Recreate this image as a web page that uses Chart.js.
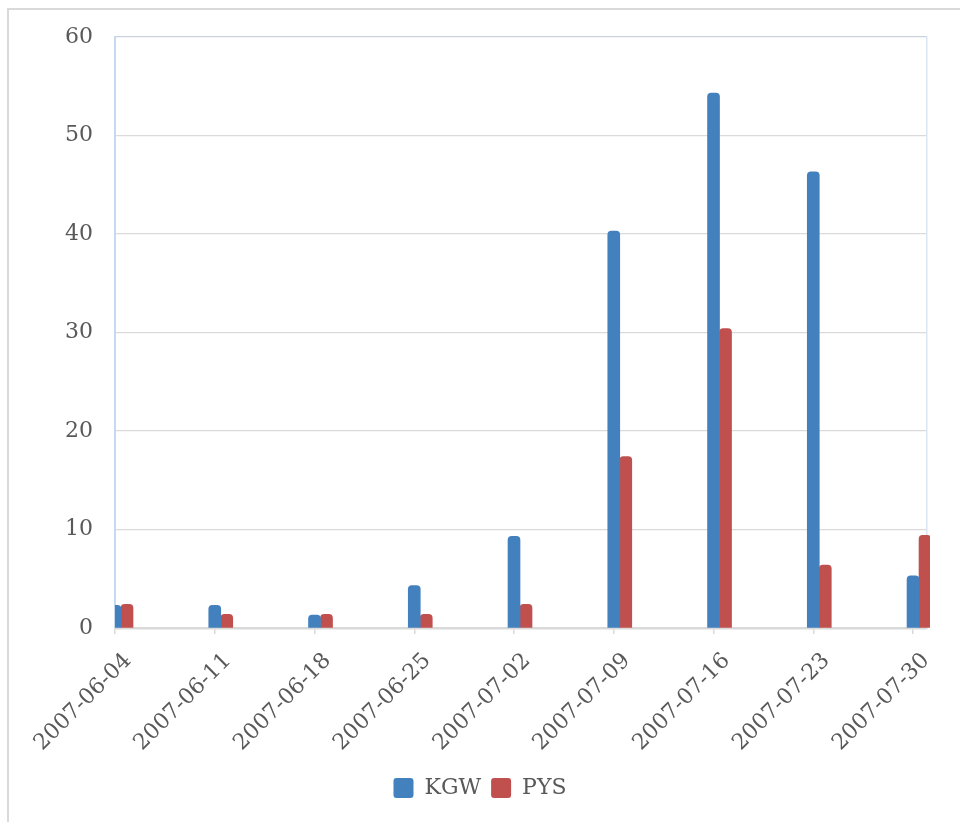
<!DOCTYPE html>
<html>
<head>
<meta charset="utf-8">
<script src="https://cdn.jsdelivr.net/npm/chart.js@4.4.1/dist/chart.umd.min.js"></script>
<style>
  html, body { margin: 0; padding: 0; background: #fff; overflow: hidden; width: 960px; height: 822px; }
  #marco { position: absolute; left: 7px; top: 8px; width: 1200px; height: 1200px; border: 2px solid #d9d9d9; }
  #grafico { position: absolute; left: 0; top: 0; }
</style>
</head>
<body>
<div id="marco"></div>
<canvas id="grafico" width="960" height="822"></canvas>
<script>
// Datos del grafico
var fechas = ['2007-06-04', '2007-06-11', '2007-06-18', '2007-06-25', '2007-07-02',
              '2007-07-09', '2007-07-16', '2007-07-23', '2007-07-30'];
var kgw = [2.3, 2.3, 1.3, 4.3, 9.3, 40.3, 54.3, 46.3, 5.3];
var pys = [2.4, 1.4, 1.4, 1.4, 2.4, 17.4, 30.4, 6.4, 9.4];
var marcasY = [0, 10, 20, 30, 40, 50, 60];

// el eje x es lineal sobre el indice de la fecha; deja un poco de aire a la derecha
var xMax = fechas.length - 1 + 0.14;

function puntos(serie) {
  return serie.map(function (v, i) { return { x: i, y: v }; });
}

var fuente = { family: 'DejaVu Serif', size: 22 };
var gris = '#595959';
var recorte = { left: 0, top: false, right: 3, bottom: 0 };

var ctx = document.getElementById('grafico').getContext('2d');

var datos = {
  datasets: [
    {
      // serie vacia, solo empuja las barras hacia la derecha de la marca
      label: '',
      data: fechas.map(function (f, i) { return { x: i, y: null }; }),
      backgroundColor: 'rgba(0,0,0,0)',
      barThickness: 12,
      clip: recorte
    },
    {
      label: 'KGW',
      data: puntos(kgw),
      backgroundColor: '#4381be',
      borderRadius: { topLeft: 4, topRight: 4 },
      borderSkipped: 'start',
      barThickness: 12,
      clip: recorte
    },
    {
      label: 'PYS',
      data: puntos(pys),
      backgroundColor: '#c0504d',
      borderRadius: { topLeft: 4, topRight: 4 },
      borderSkipped: 'start',
      barThickness: 12,
      clip: recorte
    }
  ]
};

var opciones = {
  responsive: false,
  animation: false,
  layout: { padding: { top: 37, bottom: 13, left: 0, right: 0 } },
  plugins: {
    tooltip: { enabled: false },
    legend: {
      position: 'bottom',
      labels: {
        font: fuente,
        color: gris,
        boxWidth: 20,
        boxHeight: 20,
        useBorderRadius: true,
        borderRadius: 3,
        padding: 10,
        filter: function (item) { return item.text !== ''; }
      }
    }
  },
  scales: {
    x: {
      type: 'linear',
      min: 0,
      max: xMax,
      offset: false,
      grid: {
        offset: false,
        drawOnChartArea: false,
        drawTicks: true,
        tickLength: 6,
        color: '#d9d9d9',
        lineWidth: 1.5
      },
      border: { color: '#d9d9d9', width: 2.5 },
      afterBuildTicks: function (escala) {
        escala.ticks = fechas.map(function (f, i) { return { value: i }; });
      },
      ticks: {
        font: fuente,
        color: gris,
        autoSkip: false,
        minRotation: 45,
        maxRotation: 45,
        padding: 14,
        labelOffset: 13,
        callback: function (v) { return fechas[v]; }
      },
      afterFit: function (escala) { escala.height = 139; }
    },
    y: {
      min: 0,
      max: 60,
      ticks: {
        stepSize: 10,
        font: fuente,
        color: gris,
        padding: 22
      },
      afterBuildTicks: function (escala) {
        escala.ticks = marcasY.map(function (v) { return { value: v }; });
      },
      grid: {
        drawTicks: false,
        color: function (c) { return c.tick && c.tick.value === 60 ? '#c9d1dc' : '#dadada'; },
        lineWidth: 1.2
      },
      border: { color: '#c6d9f0', width: 2 },
      afterFit: function (escala) { escala.width = 115; }
    },
    yDer: {
      position: 'right',
      min: 0,
      max: 60,
      ticks: { display: false },
      grid: { drawOnChartArea: false, drawTicks: false },
      border: { color: '#dce6f2', width: 1.5 },
      afterFit: function (escala) { escala.width = 33; }
    }
  }
};

var grafico = new Chart(ctx, {
  type: 'bar',
  data: datos,
  options: opciones
});
</script>
</body>
</html>
